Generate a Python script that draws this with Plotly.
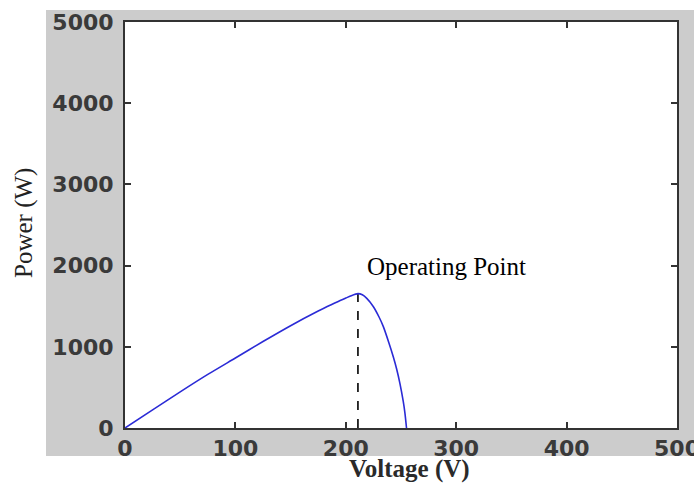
import plotly.graph_objects as go

# Data (P-V curve)
voltage = [0, 25, 50, 75, 100, 125, 150, 175, 190, 200, 205, 211, 215, 219, 225, 230, 234, 239, 243, 246, 249, 252, 253.6, 255]
power = [0, 223, 445, 660, 862, 1065, 1260, 1440, 1540, 1600, 1630, 1655, 1640, 1597, 1494, 1370, 1248, 1050, 878, 730, 550, 330, 181, 0]

op_voltage = 211
op_power = 1655
op_label = "Operating Point"

x_ticks = [0, 100, 200, 300, 400, 500]
y_ticks = [0, 1000, 2000, 3000, 4000, 5000]

W, H = 694, 484
L, R, T, B = 125, 17, 22, 56
pw, ph = W - L - R, H - T - B

def px_x(p):
    return (p - L) / pw

def px_y(p):
    return (H - B - p) / ph

fig = go.Figure()
fig.add_trace(go.Scatter(x=[op_voltage, op_voltage], y=[0, op_power], mode="lines",
                         line=dict(color="black", width=1.6, dash="dash"), hoverinfo="skip"))
fig.add_trace(go.Scatter(x=voltage, y=power, mode="lines",
                         line=dict(color="#2b2bd6", width=1.6, shape="spline", smoothing=0.6)))

tickfont = dict(family="DejaVu Sans", size=22, color="#3a3a3a", weight="bold")
axis_common = dict(showline=True, linecolor="#333333", linewidth=2, mirror="ticks",
                   ticks="inside", ticklen=6, tickwidth=1.5, tickcolor="#333333",
                   showgrid=False, zeroline=False, tickfont=tickfont,
                   ticklabeloverflow="allow", automargin=False)

fig.update_layout(
    width=W, height=H,
    margin=dict(l=L, r=R, t=T, b=B, autoexpand=False),
    paper_bgcolor="white", plot_bgcolor="rgba(0,0,0,0)",
    showlegend=False,
    xaxis=dict(range=[0, 500], tickvals=x_ticks, ticktext=[str(v) for v in x_ticks], **axis_common),
    yaxis=dict(range=[0, 5000], tickvals=y_ticks, ticktext=[str(v) for v in y_ticks],
               ticklabelstandoff=5, **axis_common),
    shapes=[
        dict(type="rect", xref="paper", yref="paper", x0=px_x(46), x1=px_x(700), y0=px_y(456), y1=px_y(10),
             fillcolor="#cccccc", line=dict(width=0), layer="below"),
        dict(type="rect", xref="paper", yref="paper", x0=0, x1=1, y0=0, y1=1,
             fillcolor="white", line=dict(width=0), layer="below"),
    ],
    annotations=[
        dict(text=op_label, x=op_voltage, y=op_power, xref="x", yref="y", xanchor="left", yanchor="middle",
             xshift=7, yshift=27, showarrow=False,
             font=dict(family="Liberation Serif", size=25, color="black")),
        dict(text="<b>Voltage (V)</b>", x=px_x(409), y=px_y(469), xref="paper", yref="paper",
             xanchor="center", yanchor="middle", showarrow=False,
             font=dict(family="Liberation Serif", size=25, color="#2a2a2a")),
        dict(text="Power (W)", x=px_x(24), y=px_y(223), xref="paper", yref="paper", textangle=-90,
             xanchor="center", yanchor="middle", showarrow=False,
             font=dict(family="Liberation Serif", size=25, color="#222222")),
    ],
)

fig.write_html("out.html")
